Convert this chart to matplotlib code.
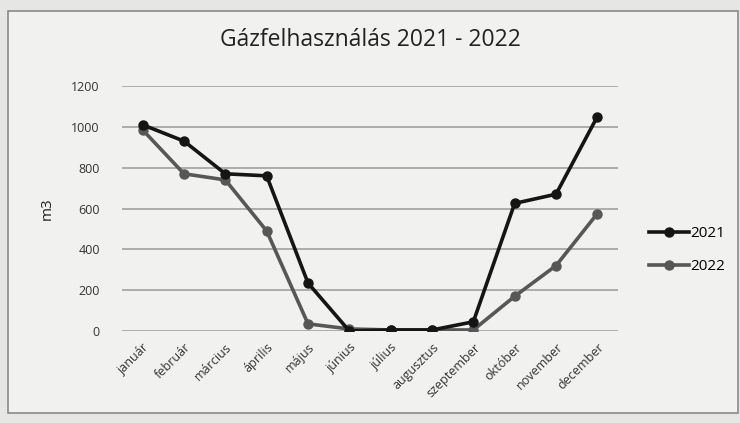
import matplotlib.pyplot as plt
from matplotlib.patches import Rectangle

honapok = ['január', 'február', 'március', 'április', 'május', 'június',
           'július', 'augusztus', 'szeptember', 'október', 'november', 'december']
ev_2021 = [1010, 930, 770, 760, 235, 0, 5, 5, 45, 625, 670, 1050]
ev_2022 = [985, 770, 740, 490, 35, 10, 5, 5, 5, 170, 320, 575]
y_ticks = [0, 200, 400, 600, 800, 1000, 1200]

plt.rcParams['font.family'] = ['Open Sans', 'DejaVu Sans']

fig = plt.figure(figsize=(7.4, 4.23), dpi=100)
fig.patch.set_facecolor('#e6e6e4')

# chart frame
keret = Rectangle((8 / 740, 10 / 423), 730 / 740, 402 / 423,
                  transform=fig.transFigure, facecolor='#f1f1f0',
                  edgecolor='#8a8a8a', linewidth=1.2, zorder=-5)
fig.add_artist(keret)

ax = fig.add_axes([122 / 740, 1 - 331 / 423, 496 / 740, 245 / 423])
ax.set_facecolor('none')
ax.set_zorder(2)

x = range(len(honapok))
ax.plot(x, ev_2021, color='#151515', linewidth=2.6, marker='o', markersize=6.5, label='2021', zorder=3)
ax.plot(x, ev_2022, color='#575757', linewidth=2.6, marker='o', markersize=6.5, label='2022', zorder=2)

ax.set_xlim(-0.5, len(honapok) - 0.5)
ax.set_ylim(0, 1200)
ax.set_yticks(y_ticks)
ax.set_xticks(list(x))
ax.set_xticklabels(honapok, rotation=45, ha='right', rotation_mode='anchor', fontsize=9, color='#333333')
ax.tick_params(axis='y', labelsize=9, colors='#333333', length=0, pad=16)
ax.tick_params(axis='x', length=0, pad=7)
ax.grid(axis='y', color='#9a9a9a', linewidth=1.1)
ax.set_axisbelow(True)
for s in ax.spines.values():
    s.set_visible(False)

ax.set_ylabel('m3', fontsize=11, color='#222222', labelpad=12)

fig.text(370 / 740, 1 - 40 / 423, 'Gázfelhasználás 2021 - 2022', ha='center', va='center',
         fontsize=16.5, color='#222222')

ax.legend(loc='center left', bbox_to_anchor=(1.035, 0.33), frameon=False, fontsize=11,
          handlelength=2.6, handletextpad=0.1, labelspacing=1.2)

fig.savefig('out.png', dpi=100, facecolor=fig.get_facecolor())
